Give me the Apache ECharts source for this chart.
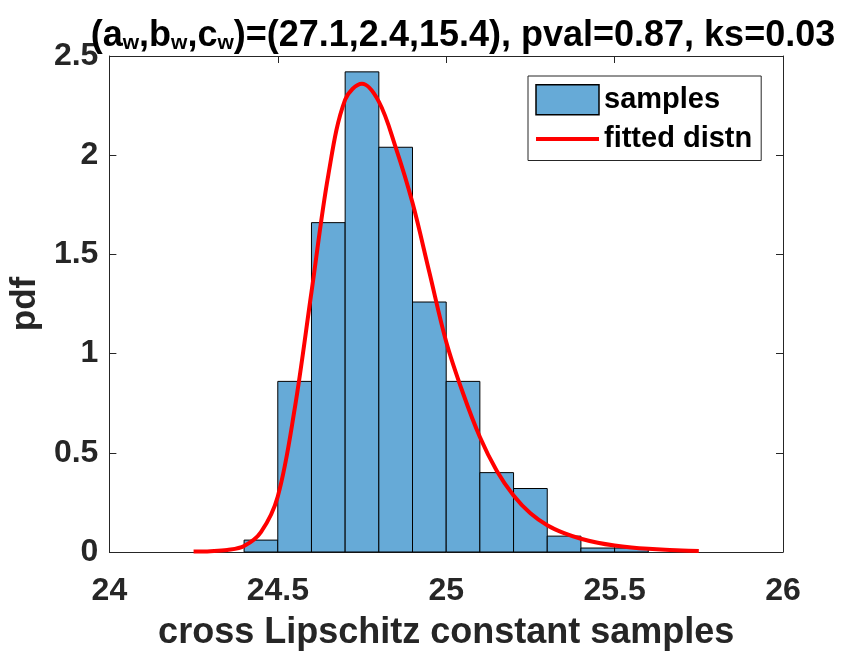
<!DOCTYPE html>
<html>
<head>
<meta charset="utf-8">
<title>cross Lipschitz constant samples</title>
<script src="https://cdn.jsdelivr.net/npm/echarts@6/dist/echarts.min.js"></script>
<style>
  html, body { margin: 0; padding: 0; background: #fff; }
  #main { width: 850px; height: 656px; }
</style>
</head>
<body>
<div id="main"></div>
<script>
// histogram bins (left edge, right edge) and pdf heights
var binStart = [24.4, 24.5, 24.6, 24.7, 24.8, 24.9, 25.0, 25.1, 25.2, 25.3, 25.4, 25.5];
var binEnd = [24.5, 24.6, 24.7, 24.8, 24.9, 25.0, 25.1, 25.2, 25.3, 25.4, 25.5, 25.6];
var binHeight = [0.06, 0.86, 1.66, 2.42, 2.04, 1.26, 0.86, 0.40, 0.32, 0.08, 0.02, 0.02];

// fitted curve
var curveX = [24.25, 24.30, 24.35, 24.40, 24.45, 24.50, 24.55, 24.60, 24.65, 24.70, 24.75,
  24.80, 24.85, 24.90, 24.95, 25.00, 25.05, 25.10, 25.15, 25.20, 25.25, 25.30, 25.35,
  25.40, 25.45, 25.50, 25.55, 25.60, 25.65, 25.70, 25.75];
var curveY = [0.002, 0.004, 0.01, 0.03, 0.10, 0.28, 0.72, 1.31, 1.90, 2.28, 2.36,
  2.27, 2.04, 1.76, 1.41, 1.06, 0.80, 0.58, 0.41, 0.285, 0.195, 0.135, 0.095,
  0.067, 0.047, 0.033, 0.023, 0.016, 0.011, 0.008, 0.005];

var xTicks = [24, 24.5, 25, 25.5, 26];
var yTicks = [0, 0.5, 1, 1.5, 2, 2.5];

var fontName = 'Liberation Sans, Arial, Helvetica, sans-serif';
var axisColor = '#262626';

var histData = [];
for (var i = 0; i < binStart.length; i++) {
  histData.push([binStart[i], binEnd[i], binHeight[i]]);
}
var curveData = [];
for (var j = 0; j < curveX.length; j++) {
  curveData.push([curveX[j], curveY[j]]);
}

var chart = echarts.init(document.getElementById('main'));

var baseX = {
  type: 'value',
  min: xTicks[0],
  max: xTicks[xTicks.length - 1],
  interval: 0.5,
  splitLine: { show: false },
  axisLine: { show: true, onZero: false, lineStyle: { color: axisColor, width: 1 } },
  axisTick: { show: true, inside: true, length: 7, lineStyle: { color: axisColor } }
};
var baseY = {
  type: 'value',
  min: yTicks[0],
  max: yTicks[yTicks.length - 1],
  interval: 0.5,
  splitLine: { show: false },
  axisLine: { show: true, onZero: false, lineStyle: { color: axisColor, width: 1 } },
  axisTick: { show: true, inside: true, length: 7, lineStyle: { color: axisColor } }
};

chart.setOption({
  animation: false,
  backgroundColor: '#fff',
  textStyle: { fontFamily: fontName },
  title: {
    text: '{n|(a}{s|w}{n|,b}{s|w}{n|,c}{s|w}{n|)=(27.1,2.4,15.4), pval=0.87, ks=0.03}',
    left: 463,
    top: 14,
    padding: 0,
    textAlign: 'center',
    textStyle: {
      rich: {
        n: { fontSize: 36, fontWeight: 'bold', color: '#000', fontFamily: fontName, lineHeight: 40, verticalAlign: 'bottom' },
        s: { fontSize: 21, fontWeight: 'bold', color: '#000', fontFamily: fontName, lineHeight: 32, verticalAlign: 'bottom' }
      }
    }
  },
  legend: {
    orient: 'vertical',
    left: 528,
    top: 76,
    padding: [8, 9, 7, 6],
    itemGap: 9,
    itemWidth: 63,
    itemHeight: 30,
    borderColor: '#262626',
    borderWidth: 1,
    borderRadius: 0,
    backgroundColor: '#fff',
    textStyle: { fontSize: 29, fontWeight: 'bold', color: '#000', fontFamily: fontName },
    data: [
      { name: 'samples', icon: 'rect', itemStyle: { color: '#66aad7', borderColor: '#000', borderWidth: 1.5 } },
      { name: 'fitted distn', itemStyle: { opacity: 0 }, lineStyle: { color: '#ff0000', width: 4 } }
    ]
  },
  grid: { left: 104, right: 67, top: 56, bottom: 101, containLabel: false },
  xAxis: [
    Object.assign({}, baseX, {
      position: 'bottom',
      name: 'cross Lipschitz constant samples',
      nameLocation: 'middle',
      nameGap: 63,
      nameTextStyle: { fontSize: 36, fontWeight: 'bold', color: axisColor },
      axisLabel: { fontSize: 32, fontWeight: 'bold', color: axisColor, margin: 23 }
    }),
    Object.assign({}, baseX, { position: 'top', axisLabel: { show: false } })
  ],
  yAxis: [
    Object.assign({}, baseY, {
      position: 'left',
      name: 'pdf',
      nameLocation: 'middle',
      nameGap: 58,
      nameRotate: 90,
      nameTextStyle: { fontSize: 35, fontWeight: 'bold', color: axisColor },
      axisLabel: { fontSize: 32, fontWeight: 'bold', color: axisColor, margin: 11 }
    }),
    Object.assign({}, baseY, { position: 'right', axisLabel: { show: false } })
  ],
  series: [{
    name: 'samples',
    type: 'custom',
    xAxisIndex: 0,
    yAxisIndex: 0,
    itemStyle: { color: '#66aad7', borderColor: '#000', borderWidth: 1 },
    encode: { x: [0, 1], y: 2 },
    renderItem: function (params, api) {
      var topLeft = api.coord([api.value(0), api.value(2)]);
      var bottomRight = api.coord([api.value(1), 0]);
      return {
        type: 'rect',
        shape: {
          x: topLeft[0],
          y: topLeft[1],
          width: bottomRight[0] - topLeft[0],
          height: bottomRight[1] - topLeft[1]
        },
        style: { fill: '#66aad7', stroke: '#000', lineWidth: 1 }
      };
    },
    data: histData,
    z: 2
  }, {
    name: 'fitted distn',
    type: 'line',
    xAxisIndex: 0,
    yAxisIndex: 0,
    smooth: 0.35,
    showSymbol: false,
    symbol: 'none',
    lineStyle: { color: '#ff0000', width: 4 },
    itemStyle: { color: '#ff0000' },
    data: curveData,
    z: 3
  }]
});
</script>
</body>
</html>
